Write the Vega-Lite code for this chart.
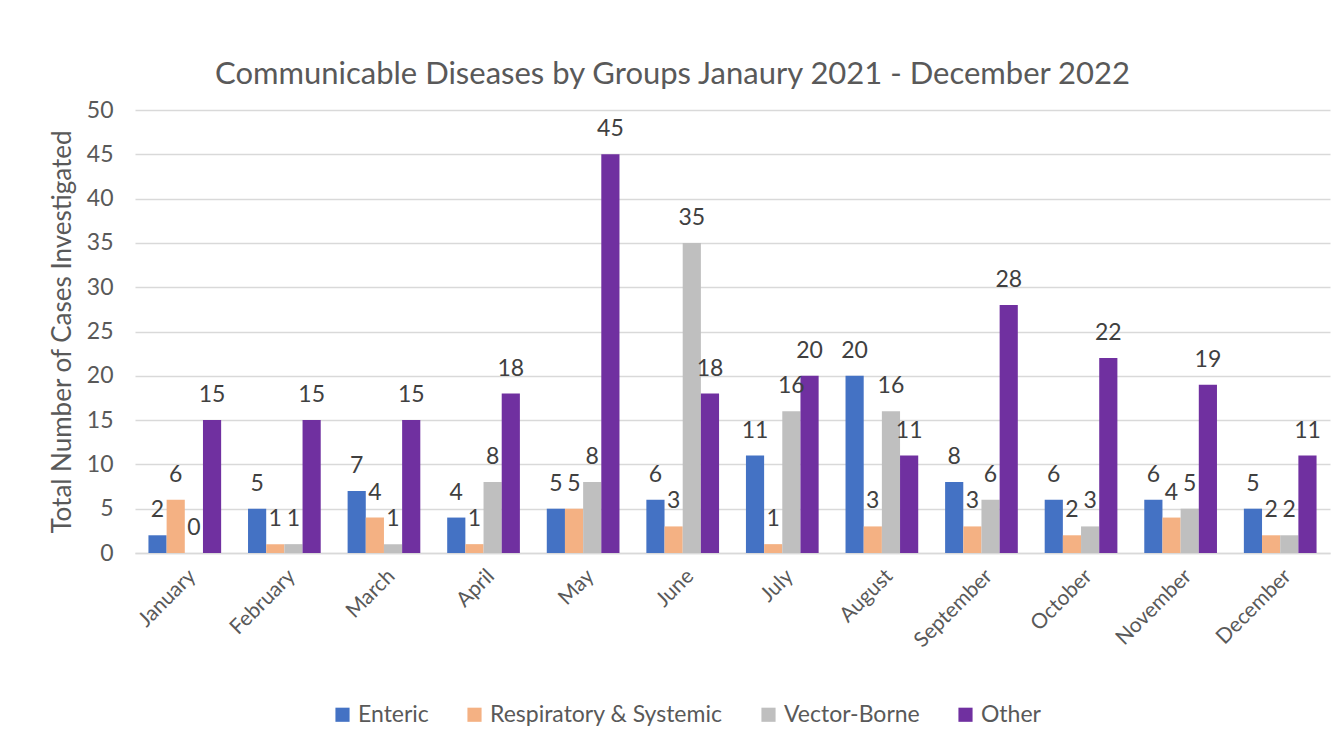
{
  "$schema": "https://vega.github.io/schema/vega-lite/v6.json",
  "autosize": {"type": "none"},
  "width": 1195,
  "height": 443,
  "padding": {"left": 135, "top": 110, "right": 10, "bottom": 201},
  "background": "white",
  "title": {"text": "Communicable Diseases by Groups Janaury 2021 - December 2022", "font": "Lato", "fontSize": 31, "fontWeight": "normal", "color": "#595959", "offset": 8, "anchor": "middle", "dx": -60},
  "data": {"values": [
    {"month": "January", "group": "Enteric", "cases": 2},
    {"month": "January", "group": "Respiratory & Systemic", "cases": 6},
    {"month": "January", "group": "Vector-Borne", "cases": 0},
    {"month": "January", "group": "Other", "cases": 15},
    {"month": "February", "group": "Enteric", "cases": 5},
    {"month": "February", "group": "Respiratory & Systemic", "cases": 1},
    {"month": "February", "group": "Vector-Borne", "cases": 1},
    {"month": "February", "group": "Other", "cases": 15},
    {"month": "March", "group": "Enteric", "cases": 7},
    {"month": "March", "group": "Respiratory & Systemic", "cases": 4},
    {"month": "March", "group": "Vector-Borne", "cases": 1},
    {"month": "March", "group": "Other", "cases": 15},
    {"month": "April", "group": "Enteric", "cases": 4},
    {"month": "April", "group": "Respiratory & Systemic", "cases": 1},
    {"month": "April", "group": "Vector-Borne", "cases": 8},
    {"month": "April", "group": "Other", "cases": 18},
    {"month": "May", "group": "Enteric", "cases": 5},
    {"month": "May", "group": "Respiratory & Systemic", "cases": 5},
    {"month": "May", "group": "Vector-Borne", "cases": 8},
    {"month": "May", "group": "Other", "cases": 45},
    {"month": "June", "group": "Enteric", "cases": 6},
    {"month": "June", "group": "Respiratory & Systemic", "cases": 3},
    {"month": "June", "group": "Vector-Borne", "cases": 35},
    {"month": "June", "group": "Other", "cases": 18},
    {"month": "July", "group": "Enteric", "cases": 11},
    {"month": "July", "group": "Respiratory & Systemic", "cases": 1},
    {"month": "July", "group": "Vector-Borne", "cases": 16},
    {"month": "July", "group": "Other", "cases": 20},
    {"month": "August", "group": "Enteric", "cases": 20},
    {"month": "August", "group": "Respiratory & Systemic", "cases": 3},
    {"month": "August", "group": "Vector-Borne", "cases": 16},
    {"month": "August", "group": "Other", "cases": 11},
    {"month": "September", "group": "Enteric", "cases": 8},
    {"month": "September", "group": "Respiratory & Systemic", "cases": 3},
    {"month": "September", "group": "Vector-Borne", "cases": 6},
    {"month": "September", "group": "Other", "cases": 28},
    {"month": "October", "group": "Enteric", "cases": 6},
    {"month": "October", "group": "Respiratory & Systemic", "cases": 2},
    {"month": "October", "group": "Vector-Borne", "cases": 3},
    {"month": "October", "group": "Other", "cases": 22},
    {"month": "November", "group": "Enteric", "cases": 6},
    {"month": "November", "group": "Respiratory & Systemic", "cases": 4},
    {"month": "November", "group": "Vector-Borne", "cases": 5},
    {"month": "November", "group": "Other", "cases": 19},
    {"month": "December", "group": "Enteric", "cases": 5},
    {"month": "December", "group": "Respiratory & Systemic", "cases": 2},
    {"month": "December", "group": "Vector-Borne", "cases": 2},
    {"month": "December", "group": "Other", "cases": 11}
  ]},
  "encoding": {
    "x": {"field": "month", "type": "nominal", "sort": null,
      "scale": {"paddingInner": 0.27, "paddingOuter": 0.135},
      "axis": {"title": null, "labelAngle": -45, "labelAlign": "right", "labelBaseline": "top", "labelFont": "Lato", "labelFontSize": 21, "labelColor": "#595959", "ticks": false, "domainColor": "#d9d9d9", "domainWidth": 1.5, "labelPadding": 12}},
    "xOffset": {"field": "group", "type": "nominal", "sort": ["Enteric", "Respiratory & Systemic", "Vector-Borne", "Other"]},
    "y": {"field": "cases", "type": "quantitative",
      "scale": {"domain": [0, 50]},
      "axis": {"title": "Total Number of Cases Investigated", "titleFont": "Lato", "titleFontSize": 26, "titleFontWeight": "normal", "titleColor": "#595959", "titlePadding": 11, "values": [0, 5, 10, 15, 20, 25, 30, 35, 40, 45, 50], "labelFont": "Lato", "labelFontSize": 23, "labelColor": "#595959", "ticks": false, "domain": false, "gridColor": "#d9d9d9", "gridWidth": 1.5, "labelPadding": 22, "labelOverlap": false}}
  },
  "layer": [
    {"mark": {"type": "bar"},
     "encoding": {"color": {"field": "group", "type": "nominal",
        "sort": ["Enteric", "Respiratory & Systemic", "Vector-Borne", "Other"],
        "scale": {"domain": ["Enteric", "Respiratory & Systemic", "Vector-Borne", "Other"], "range": ["#4472C4", "#F4B183", "#BFBFBF", "#7030A0"]},
        "legend": {"title": null, "orient": "none", "legendX": 196, "legendY": 593, "direction": "horizontal", "symbolType": "square", "symbolSize": 200, "symbolStrokeWidth": 0, "labelFont": "Lato", "labelFontSize": 23, "labelColor": "#595959", "columnPadding": 34, "labelLimit": 400}}}},
    {"mark": {"type": "text", "dy": -25, "font": "Lato", "fontSize": 23, "color": "#404040"},
     "encoding": {"text": {"field": "cases", "type": "quantitative"}}}
  ],
  "config": {"view": {"stroke": null}}
}
